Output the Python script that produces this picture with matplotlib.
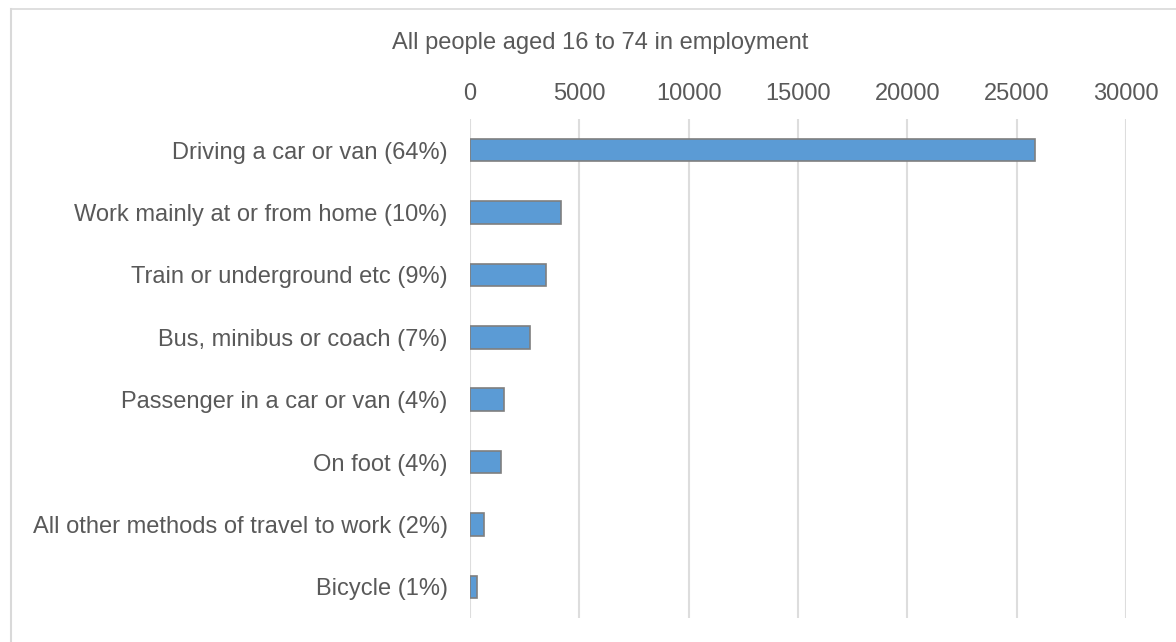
import matplotlib.pyplot as plt
from matplotlib.lines import Line2D

plt.rcParams['font.family'] = ['Liberation Sans', 'DejaVu Sans']

# Method of travel to work, people aged 16 to 74 in employment
methods = [
    'Driving a car or van (64%)',
    'Work mainly at or from home (10%)',
    'Train or underground etc (9%)',
    'Bus, minibus or coach (7%)',
    'Passenger in a car or van (4%)',
    'On foot (4%)',
    'All other methods of travel to work (2%)',
    'Bicycle (1%)',
]
people = [25850, 4150, 3490, 2730, 1570, 1430, 625, 320]
ticks = [0, 5000, 10000, 15000, 20000, 25000, 30000]

TEXT = '#595959'
FS = 17
W, H = 1176, 642

fig = plt.figure(figsize=(W / 100, H / 100), dpi=100)
ax = fig.add_axes([470 / W, 1 - 618 / H, (1126 - 470) / W, (618 - 119) / H])

pos = list(range(len(methods)))
ax.barh(pos, people, height=0.36, color='#5B9BD5',
        edgecolor='#7F7F7F', linewidth=1.2, zorder=3)

ax.set_xlim(0, 30000)
ax.set_ylim(len(methods) - 0.5, -0.5)
ax.set_xticks(ticks)
ax.set_xticklabels([str(t) for t in ticks])
ax.set_yticks(pos)
ax.set_yticklabels(methods)
ax.xaxis.tick_top()
ax.tick_params(axis='x', length=0, pad=10, labelsize=FS, labelcolor=TEXT)
ax.tick_params(axis='y', length=0, pad=16, labelsize=FS, labelcolor=TEXT)

ax.grid(axis='x', color='#DDDDDD', linewidth=1.5, zorder=0)
for s in ax.spines.values():
    s.set_visible(False)

fig.text(600 / W, 1 - 43 / H, 'All people aged 16 to 74 in employment',
         ha='center', va='center', fontsize=FS, color=TEXT)

# light frame round the chart area
fig.add_artist(Line2D([11 / W, 11 / W], [0, 1 - 9 / H], transform=fig.transFigure,
                      color='#D9D9D9', linewidth=1.5))
fig.add_artist(Line2D([11 / W, 1], [1 - 9 / H, 1 - 9 / H], transform=fig.transFigure,
                      color='#D9D9D9', linewidth=1.2))

fig.savefig('out.png', dpi=100)
